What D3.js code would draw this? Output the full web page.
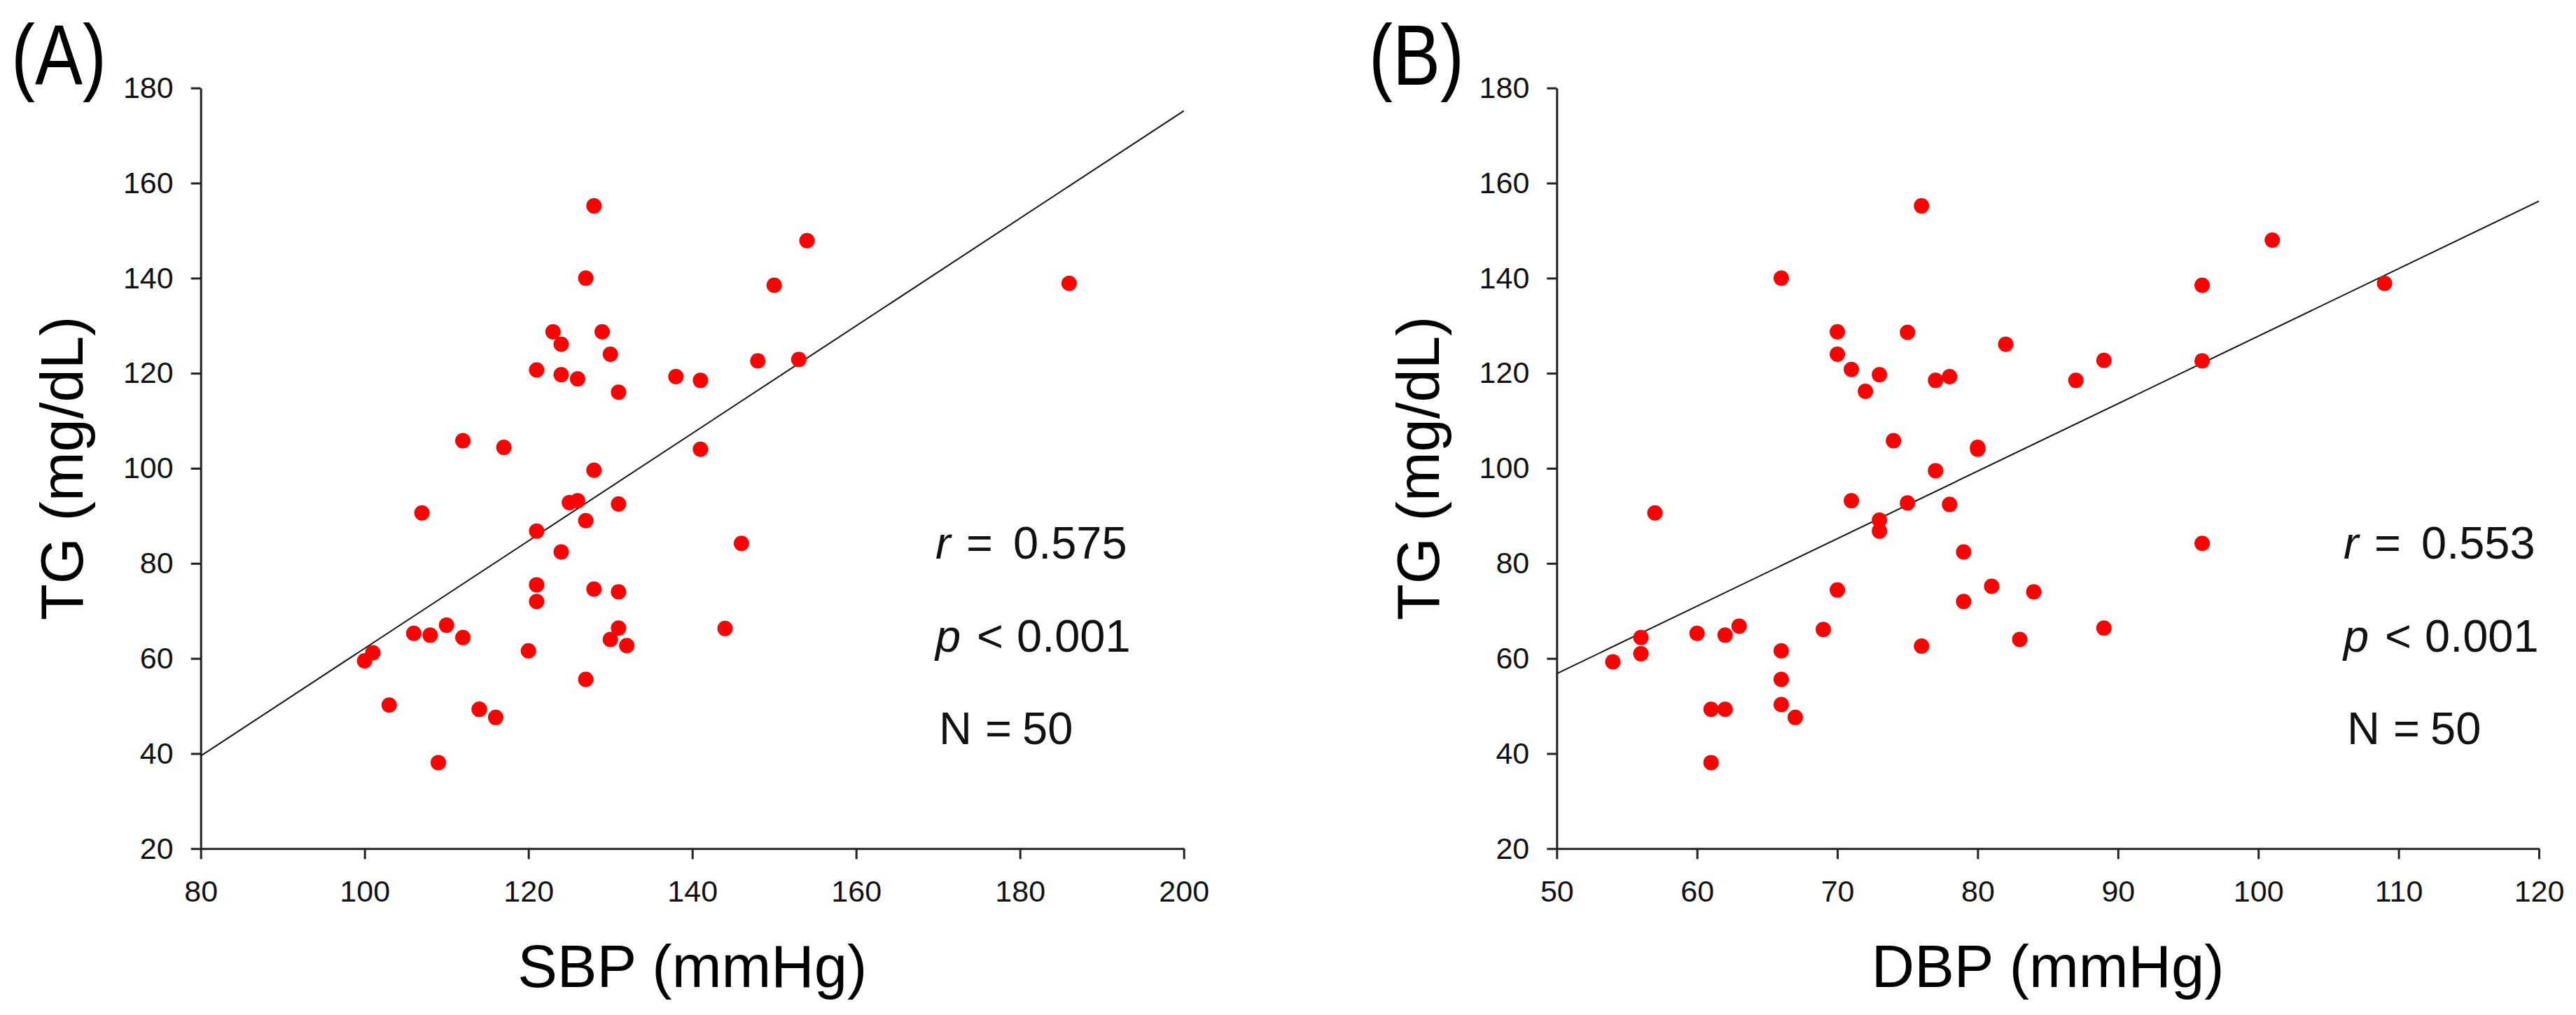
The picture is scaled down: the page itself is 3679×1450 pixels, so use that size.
<!DOCTYPE html>
<html>
<head>
<meta charset="utf-8">
<script src="https://cdn.jsdelivr.net/npm/d3@7"></script>
<style>
  body { margin: 0; background: #fff; }
  text { font-family: "Liberation Sans", Arial, sans-serif; }
</style>
</head>
<body>
<script>

// Panel A - SBP vs TG
const sbp = [128, 154, 127, 150, 186, 123, 129, 124, 130, 148,
             153, 121, 124, 126, 138, 141, 131, 112, 117, 141,
             128, 125, 126, 131, 107, 127, 121, 146, 124, 121,
             121, 128, 131, 110, 106, 108, 112, 131, 130, 132,
             144, 120, 101, 100, 127, 103, 114, 116, 109, 114];
const tgA = [155.2, 147.9, 140, 138.5, 138.9, 128.7, 128.7, 126.1, 124, 122.6,
             122.9, 120.7, 119.7, 118.8, 119.3, 118.5, 116, 105.8, 104.4, 104,
             99.6, 92.8, 93.2, 92.5, 90.6, 89, 86.8, 84.2, 82.4, 75.5,
             72, 74.6, 74, 67, 65.3, 64.9, 64.4, 66.4, 64, 62.7,
             66.3, 61.6, 61.2, 59.5, 55.6, 50.2, 49.3, 47.6, 38.1, 49.3];
// fitted TG at both ends of the x domain
const fitA = [39.5, 175.2];
const xTicksA = [80, 100, 120, 140, 160, 180, 200];
const statsA = ['0.575', '0.001', '50'];

// Panel B - DBP vs TG
const dbp = [76, 101, 66, 96, 109, 70, 75, 82, 70, 71,
             73, 89, 96, 77, 78, 87, 72, 74, 80, 80,
             77, 71, 75, 78, 57, 73, 73, 96, 79, 81,
             84, 70, 79, 63, 69, 89, 60, 62, 56, 83,
             76, 66, 56, 54, 66, 66, 61, 62, 67, 61];
const tgB = [155.2, 148, 140, 138.5, 138.9, 128.7, 128.6, 126.1, 124, 120.8,
             119.7, 122.7, 122.6, 118.5, 119.3, 118.5, 116.2, 105.8, 104.4, 104,
             99.5, 93.2, 92.7, 92.4, 90.6, 89.1, 86.8, 84.2, 82.4, 75.2,
             74, 74.4, 72, 66.8, 66.1, 66.4, 65.3, 64.9, 64.4, 64,
             62.6, 61.6, 61, 59.3, 55.6, 50.3, 49.3, 49.3, 47.6, 38.1];
const fitB = [56.8, 156.2];
const xTicksB = [50, 60, 70, 80, 90, 100, 110, 120];
const statsB = ['0.553', '0.001', '50'];

const yTicks = [20, 40, 60, 80, 100, 120, 140, 160, 180];

const svg = d3.select('body').append('svg')
    .attr('width', 3679)
    .attr('height', 1450);

const yTop = 125.7, yBottom = 1212.3;

const panels = [
  { tag: '(A)', tagX: 16, left: 286.7, right: 1690.7, xs: sbp, ys: tgA,
    xTicks: xTicksA, fit: fitA, xTitle: 'SBP (mmHg)', stats: statsA, statsX: 1336 },
  { tag: '(B)', tagX: 1955, left: 2223.3, right: 3626, xs: dbp, ys: tgB,
    xTicks: xTicksB, fit: fitB, xTitle: 'DBP (mmHg)', stats: statsB, statsX: 3347 }
];

panels.forEach(p => {
  const xDom = [p.xTicks[0], p.xTicks[p.xTicks.length - 1]];
  const x = d3.scaleLinear().domain(xDom).range([p.left, p.right]);
  const y = d3.scaleLinear().domain([20, 180]).range([yBottom, yTop]);

  // axes
  const gx = svg.append('g')
      .attr('transform', `translate(0,${yBottom})`)
      .call(d3.axisBottom(x).tickValues(p.xTicks).tickSize(15).tickSizeOuter(0).tickPadding(30));
  const gy = svg.append('g')
      .attr('transform', `translate(${p.left},0)`)
      .call(d3.axisLeft(y).tickValues(yTicks).tickSize(14).tickSizeOuter(0).tickPadding(25));

  [gx, gy].forEach(g => {
    g.selectAll('path, line').attr('stroke', '#222').attr('stroke-width', 3);
    g.selectAll('text')
      .attr('fill', '#111')
      .style('font-size', '43px')
      .style('font-family', '"Liberation Sans", Arial, sans-serif');
  });

  // regression line
  svg.append('path')
      .datum(xDom.map((d, i) => [d, p.fit[i]]))
      .attr('d', d3.line().x(d => x(d[0])).y(d => y(d[1])))
      .attr('fill', 'none')
      .attr('stroke', '#111')
      .attr('stroke-width', 2);

  // points
  svg.append('g').selectAll('circle')
      .data(p.xs)
      .enter()
    .append('circle')
      .attr('cx', d => x(d))
      .attr('cy', (d, i) => y(p.ys[i]))
      .attr('r', 11)
      .attr('fill', '#ff0000');

  // titles
  svg.append('text')
      .attr('x', (p.left + p.right) / 2)
      .attr('y', 1410)
      .attr('text-anchor', 'middle')
      .style('font-size', '85px')
      .text(p.xTitle);

  svg.append('text')
      .attr('transform', `translate(${p.left - 168.7},${(yTop + yBottom) / 2}) rotate(-90)`)
      .attr('text-anchor', 'middle')
      .style('font-size', '85px')
      .text('TG (mg/dL)');

  // panel tag, a bit narrower like the original
  svg.append('text')
      .attr('x', p.tagX)
      .attr('y', 121)
      .attr('textLength', 136)
      .attr('lengthAdjust', 'spacingAndGlyphs')
      .style('font-size', '122px')
      .text(p.tag);

  // r, p and N
  const sx = p.statsX;
  const lines = [
    { y: 798, parts: [['r', 0, true], ['=', 44], [p.stats[0], 111]] },
    { y: 931, parts: [['p', 0, true], ['<', 59], [p.stats[1], 116]] },
    { y: 1063, parts: [['N', 5], ['=', 71], [p.stats[2], 124]] }
  ];
  lines.forEach(l => {
    const t = svg.append('text')
        .attr('y', l.y)
        .attr('fill', '#111')
        .style('font-size', '65px');
    l.parts.forEach(q => {
      t.append('tspan')
        .attr('x', sx + q[1])
        .style('font-style', q[2] ? 'italic' : 'normal')
        .text(q[0]);
    });
  });
});

</script>
</body>
</html>
